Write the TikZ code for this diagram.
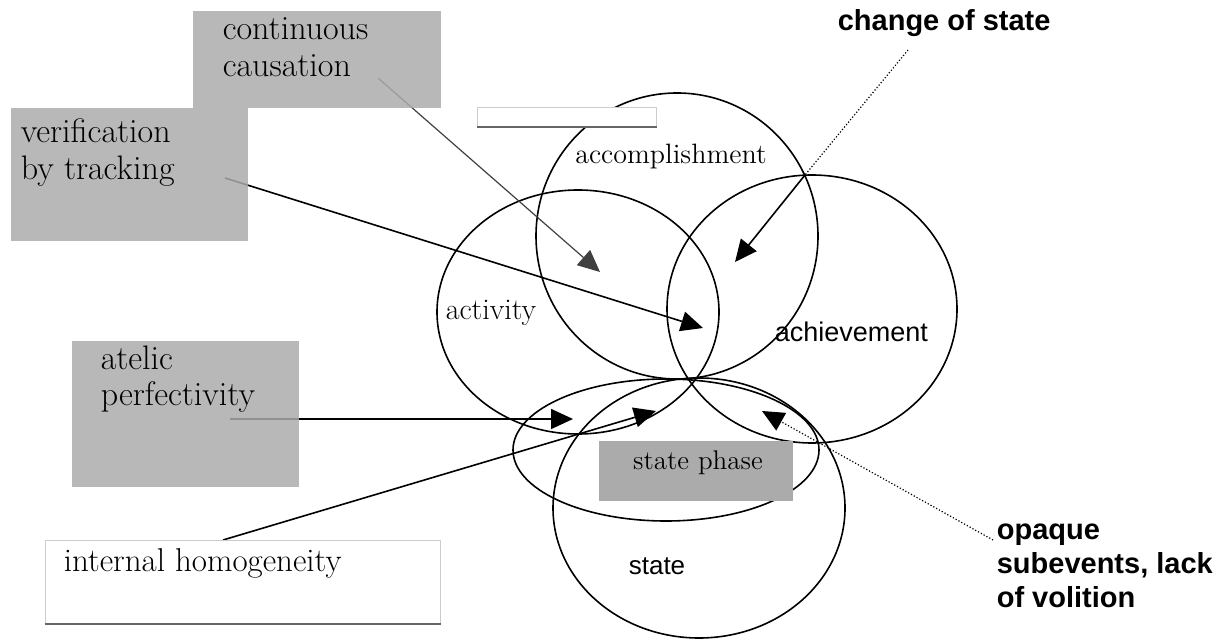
\documentclass[tikz,border=0pt]{standalone}
\usepackage{fontspec}
\newfontfamily\blockfont{Liberation Sans}
\usetikzlibrary{arrows.meta}

\begin{document}
\begin{tikzpicture}[x=0.5pt,y=-0.5pt,>={Triangle[length=11pt,width=10pt]},thick]
  \tikzstyle{shade box}=[fill=black!33,fill opacity=0.85,draw=none,inner sep=0pt,anchor=north west]
  \tikzstyle{blank box}=[fill=white,draw=black!20,thin,inner sep=0pt,anchor=north west]
  \tikzstyle{serif}=[inner sep=0pt,align=left]
  \tikzstyle{block}=[inner sep=0pt,align=left]
  \useasboundingbox (0,0) rectangle (1219,640);

  % the five event classes
  \draw (677,236) ellipse [x radius=141, y radius=143];
  \draw (578,312) ellipse [x radius=141, y radius=122];
  \draw (812,309) ellipse [x radius=145, y radius=134];
  \draw (666,450) ellipse [x radius=153, y radius=71];
  \draw (699,508) ellipse [x radius=146, y radius=130];

  % arrow ends
  \coordinate (cc0) at (378,78);    \coordinate (cc1) at (600,272);
  \coordinate (vt0) at (225,178);   \coordinate (vt1) at (703,328);
  \coordinate (cs0) at (908,50);    \coordinate (csm) at (805,175);
  \coordinate (cs1) at (735,262);
  \coordinate (ap0) at (230,419);   \coordinate (ap1) at (573,419);
  \coordinate (ih0) at (223,540);   \coordinate (ih1) at (656,411);
  \coordinate (op0) at (993,540);   \coordinate (op1) at (762,411);

  \draw[->] (vt0) -- (vt1);
  \draw[->] (ap0) -- (ap1);
  \draw[->] (ih0) -- (ih1);
  \draw[->,semithick,black!75] (cc0) -- (cc1);
  \draw[densely dotted,semithick] (cs0) -- (csm);
  \draw[->] (csm) -- (cs1);
  \draw[->,densely dotted,semithick] (op0) -- (op1);

  % boxes
  \node[shade box,minimum width=124pt,minimum height=48.5pt] (ccbox) at (192,10) {};
  \node[shade box,minimum width=118.5pt,minimum height=66.5pt] (vtbox) at (10,107) {};
  \node[shade box,minimum width=113.5pt,minimum height=73pt] (apbox) at (71,340) {};
  \node[blank box,minimum width=197.5pt,minimum height=41.5pt] (ihbox) at (45,540) {};
  \draw[black!60] (ihbox.south west) -- (ihbox.south east);
  \node[blank box,minimum width=89.5pt,minimum height=9.5pt] (topbox) at (477,107) {};
  \draw[black!60] (topbox.south west) -- (topbox.south east);
  \node[shade box,fill opacity=1,minimum width=97pt,minimum height=30pt] (spbox) at (598,440) {};

  % labels
  \node[serif,anchor=north west,font=\fontsize{17}{18.5}\selectfont] (cc) at (222,17) {continuous\\causation};
  \node[serif,anchor=north west,font=\fontsize{17}{18.5}\selectfont] (vt) at (20,118) {verification\\by tracking};
  \node[serif,anchor=north west,font=\fontsize{17}{18}\selectfont] (ap) at (100,345) {atelic\\perfectivity};
  \node[serif,anchor=west,font=\fontsize{16.5}{18}\selectfont] (ih) at (63,563) {internal homogeneity};
  \node[serif,font=\fontsize{14}{16}\selectfont] (acc) at (671,157) {accomplishment};
  \node[serif,font=\fontsize{15}{17}\selectfont] (act) at (491,313) {activity};
  \node[serif,font=\fontsize{13.5}{15}\selectfont] (sp) at (698,463) {state phase};
  \node[block,anchor=west,font=\blockfont\fontsize{13.5}{15}\selectfont] (ach) at (774,332) {achievement};
  \node[block,font=\blockfont\fontsize{13}{15}\selectfont] (st) at (657,566) {state};
  \node[block,anchor=west,font=\blockfont\bfseries\fontsize{14.5}{17}\selectfont] (cs) at (837,23) {change of state};
  \node[block,anchor=north west,font=\blockfont\bfseries\fontsize{14.5}{17}\selectfont] (op) at (996,523) {opaque\\subevents, lack\\of volition};
\end{tikzpicture}
\end{document}
